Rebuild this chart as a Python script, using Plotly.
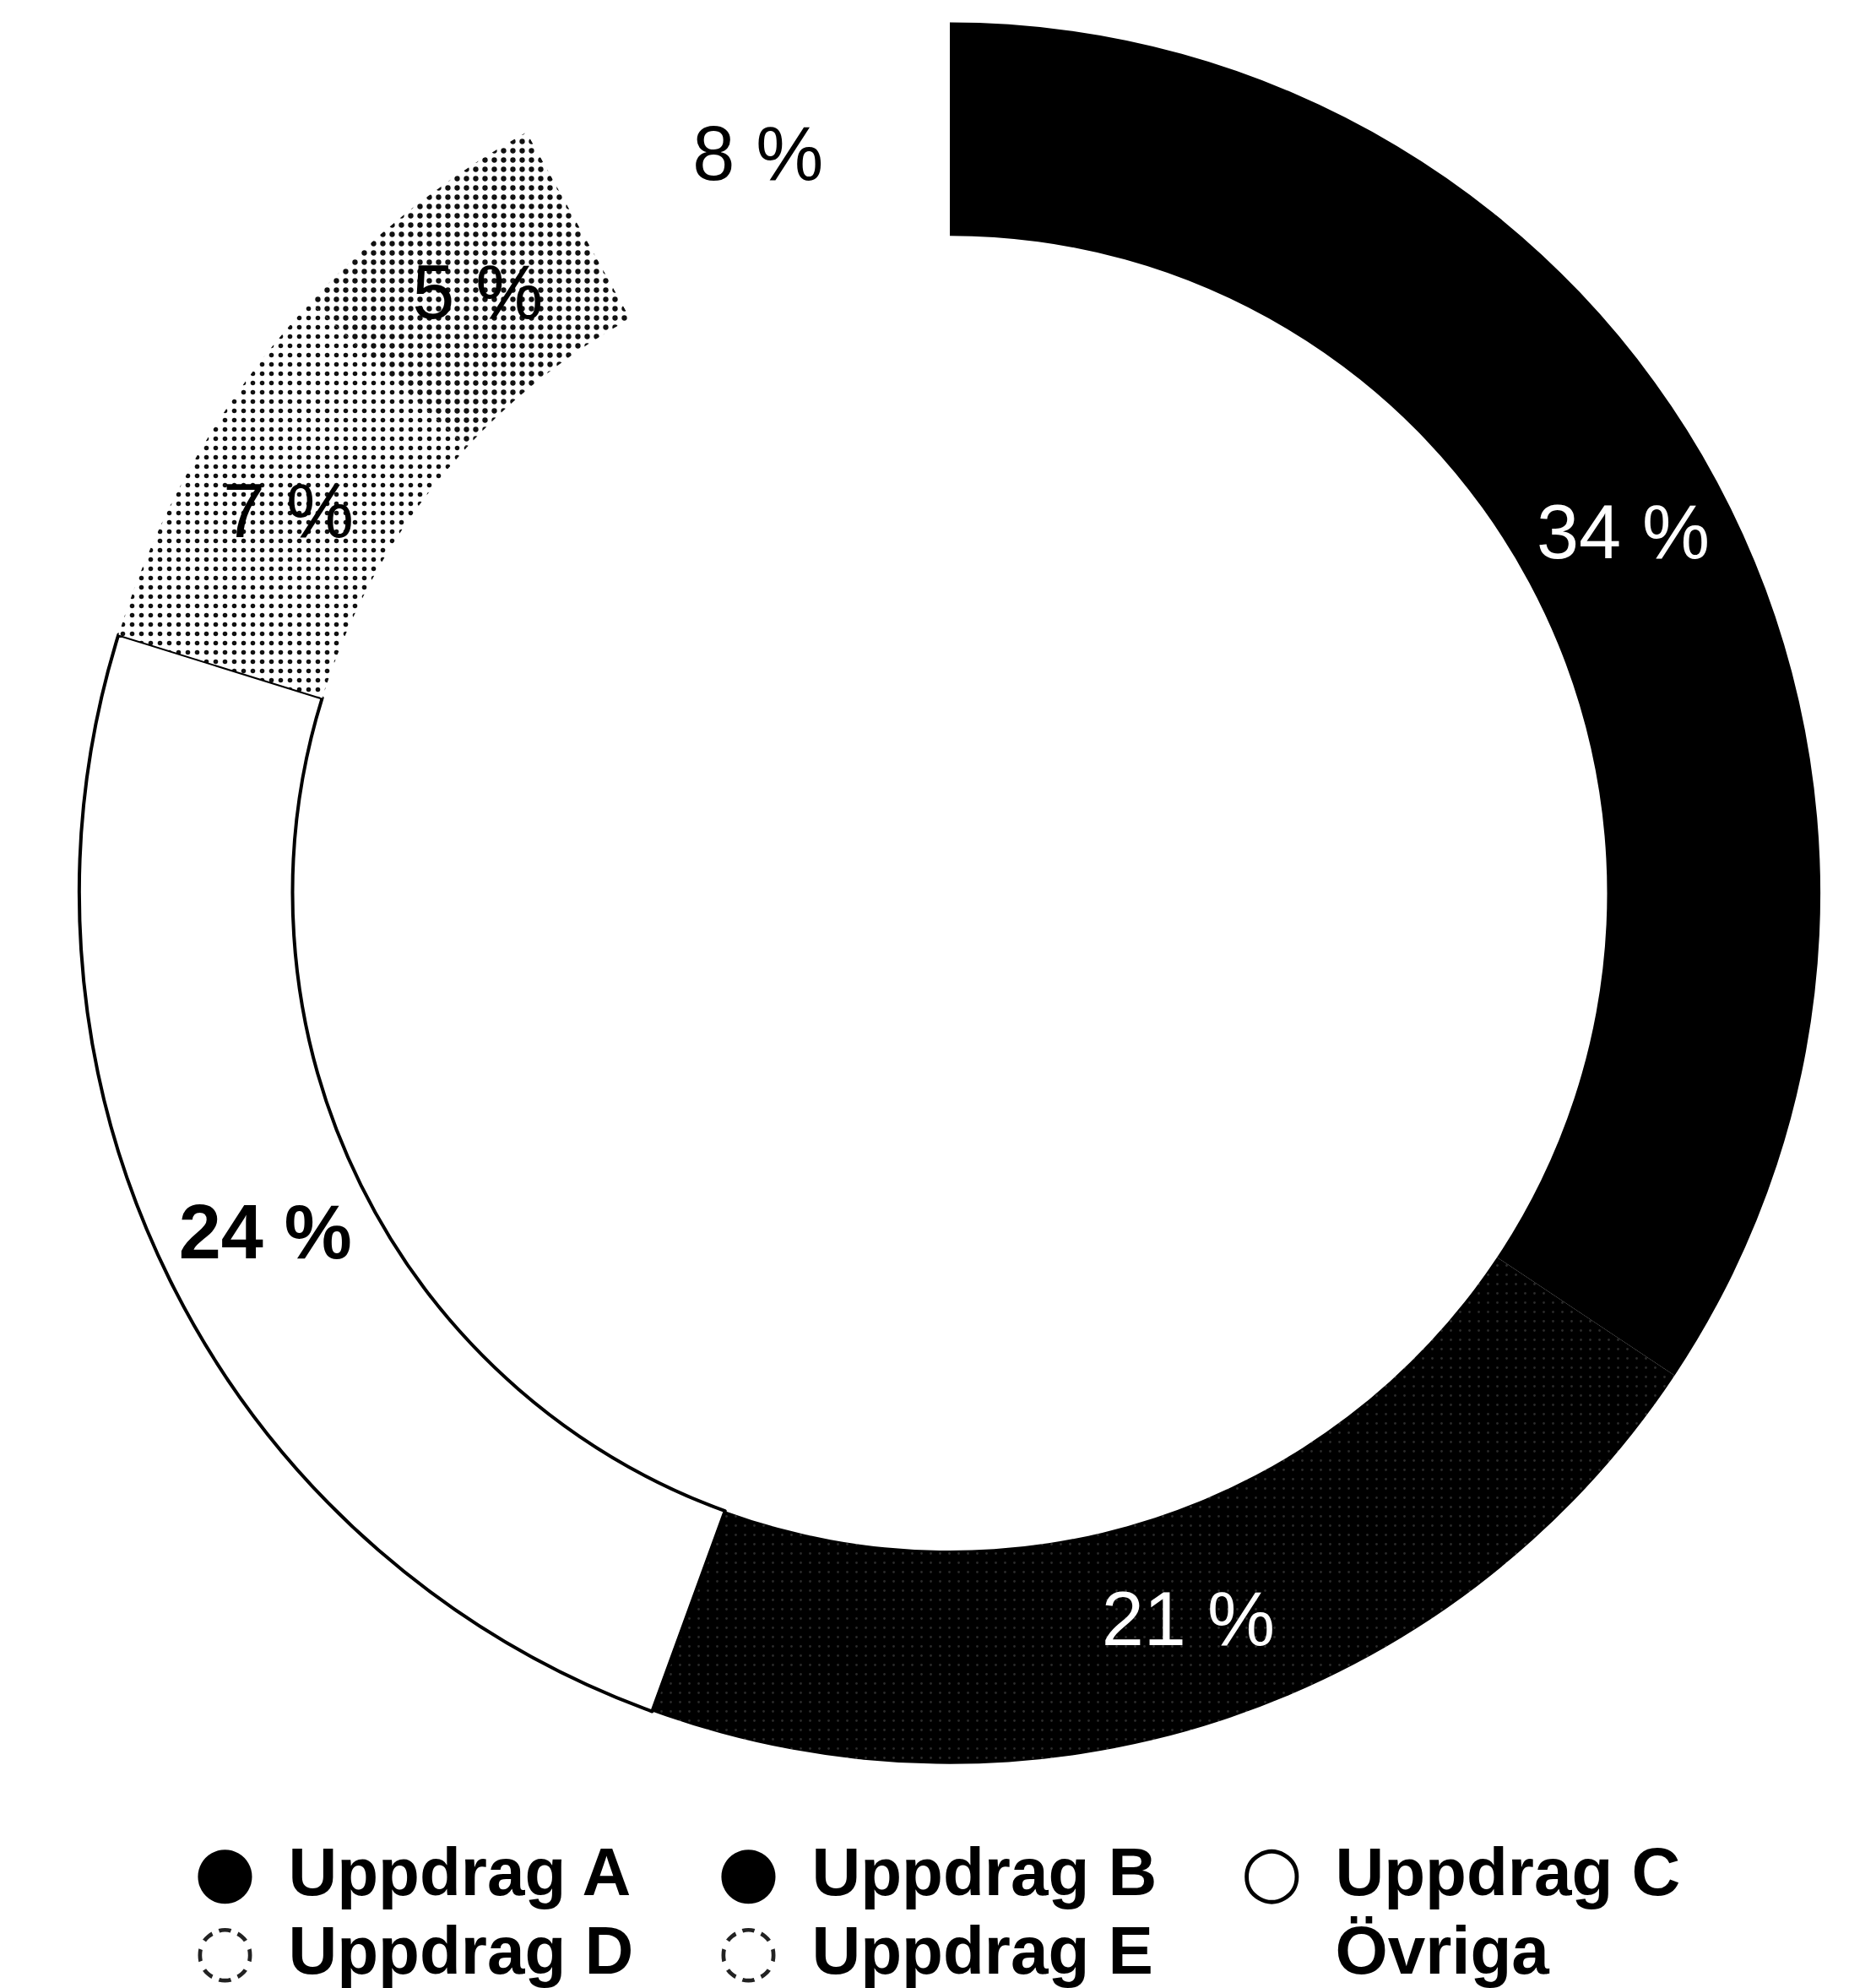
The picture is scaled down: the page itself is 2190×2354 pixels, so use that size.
import plotly.graph_objects as go

categories = ["Uppdrag A", "Uppdrag B", "Uppdrag C", "Uppdrag D", "Uppdrag E", "Övriga"]
values = [34, 21, 24, 7, 5, 8]
legend_glyphs = ["●", "●", "○", "◌", "◌", "●"]

fill_colors = ["#000000", "#050505", "#ffffff", "#ffffff", "#ffffff", "#ffffff"]
pattern_shapes = ["", ".", "", ".", ".", ""]
pattern_fg = ["#000000", "#2a2a2a", "#000000", "#111111", "#111111", "#000000"]
pattern_bg = ["#000000", "#000000", "#ffffff", "#ffffff", "#ffffff", "#ffffff"]
pattern_solidity = [0.3, 0.05, 0.3, 0.2, 0.26, 0.3]
line_widths = [0, 0, 4, 0, 0, 0]
text_colors = ["#ffffff", "#ffffff", "#000000", "#000000", "#000000", "#000000"]
glyph_colors = ["#000000", "#000000", "#000000", "#222222", "#222222", "#ffffff"]

templates = ["<b>%{value} %</b>" if c == "Uppdrag C" else "%{value} %" for c in categories]

fig = go.Figure()
fig.add_trace(go.Pie(
    labels=categories,
    values=values,
    sort=False,
    direction="clockwise",
    rotation=0,
    hole=0.755,
    marker=dict(
        colors=fill_colors,
        line=dict(color="#000000", width=line_widths),
        pattern=dict(shape=pattern_shapes, fgcolor=pattern_fg, bgcolor=pattern_bg,
                     size=11, solidity=pattern_solidity, fillmode="replace"),
    ),
    texttemplate=templates,
    textposition="inside",
    insidetextorientation="horizontal",
    textfont=dict(family="Liberation Sans", size=90, color=text_colors),
    showlegend=False,
    hoverinfo="skip",
    domain=dict(x=[0.0292, 0.9909], y=[0.1012, 0.9920]),
))

for cat, g, gc in zip(categories, legend_glyphs, glyph_colors):
    fig.add_trace(go.Scatter(
        x=[None], y=[None], mode="lines", line=dict(width=0, color="#ffffff"),
        name=(f"<span style='font-family:DejaVu Sans;font-size:84px;color:{gc}'>{g}</span>"
              f"&nbsp;&nbsp;<span style='font-size:80px'>{cat}</span>"),
        showlegend=True, hoverinfo="skip",
    ))

fig.update_layout(
    width=2190, height=2354,
    margin=dict(l=0, r=0, t=0, b=0),
    paper_bgcolor="#ffffff", plot_bgcolor="#ffffff",
    xaxis=dict(visible=False), yaxis=dict(visible=False),
    legend=dict(
        orientation="h", x=0.083, xanchor="left", y=0.068, yanchor="top",
        entrywidth=575, itemwidth=30, tracegroupgap=0,
        font=dict(family="Liberation Sans", size=69, color="#000000", weight="bold"),
        bgcolor="rgba(0,0,0,0)",
    ),
)

fig.write_html("out.html")
